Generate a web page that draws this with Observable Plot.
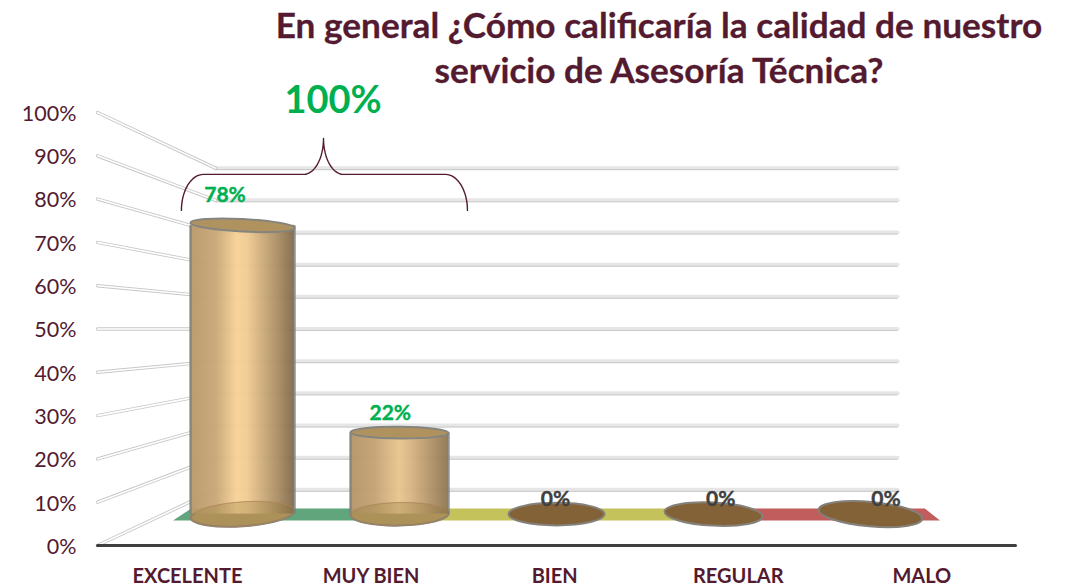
<!DOCTYPE html>
<html lang="es">
<head>
<meta charset="utf-8">
<script src="https://cdn.jsdelivr.net/npm/d3@7"></script>
<script src="https://cdn.jsdelivr.net/npm/@observablehq/plot@0.6"></script>
<style>
  html, body { margin: 0; padding: 0; background: #fff; }
  body { width: 1071px; height: 585px; overflow: hidden; font-family: Lato, sans-serif; }
  #title { position: relative; height: 80px; width: 1071px; }
  #title div { position: absolute; left: 259px; width: 800px; text-align: center; font-weight: 700; font-size: 35.2px; line-height: 44px; color: #541a30; white-space: nowrap; -webkit-text-stroke: 0.3px #541a30; }
  #chart svg { overflow: visible; display: block; }
</style>
</head>
<body>
<div id="title">
  <div style="top:2px">En general ¿Cómo calificaría la calidad de nuestro</div>
  <div style="top:47px">servicio de Asesoría Técnica?</div>
</div>
<div id="chart"></div>
<script>
const categories = ["EXCELENTE", "MUY BIEN", "BIEN", "REGULAR", "MALO"];
const values = [78, 22, 0, 0, 0];
const labels = ["78%", "22%", "0%", "0%", "0%"];
const yTicks = [0, 10, 20, 30, 40, 50, 60, 70, 80, 90, 100];
const total = "100%";

const MAROON = "#541a30", GREEN = "#00b050";
const rows = categories.map((c, i) => ({c, i, v: values[i], label: labels[i]}));

// Perspective planes: k=1 front, smaller k further back, around the centre of the floor
const BACK = 0.743, MID = 0.855, LABEL = 0.9;
const px = (i, k) => 2.5 + (i - 2.5) * k;
const py = (v, k) => 50 + (v - 50) * k;
const cx = i => px(i + 0.5, MID);
const halfPx = i => 48 + (i - 2) * (i - 2);
const half = i => halfPx(i) / 183.6;

const ellipse = ratio => ({
  draw(ctx, size) {
    const rx = Math.sqrt(size / Math.PI), ry = rx * ratio, c = 0.5523;
    ctx.moveTo(rx, 0);
    ctx.bezierCurveTo(rx, ry * c, rx * c, ry, 0, ry);
    ctx.bezierCurveTo(-rx * c, ry, -rx, ry * c, -rx, 0);
    ctx.bezierCurveTo(-rx, -ry * c, -rx * c, -ry, 0, -ry);
    ctx.bezierCurveTo(rx * c, -ry, rx, -ry * c, rx, 0);
    ctx.closePath();
  }
});
const capTop = ellipse(0.12), capBase = ellipse(0.235);
const topTilt = i => (i === 0 ? 3 : 0.5);
const baseTilt = i => [-4, -1, 0, 3, 5][i];

function defs() {
  const NS = "http://www.w3.org/2000/svg";
  const d = document.createElementNS(NS, "defs");
  const grad = (id, stops) => {
    const g = document.createElementNS(NS, "linearGradient");
    g.setAttribute("id", id);
    stops.forEach(([o, col]) => {
      const s = document.createElementNS(NS, "stop");
      s.setAttribute("offset", o);
      s.setAttribute("stop-color", col);
      g.appendChild(s);
    });
    d.appendChild(g);
  };
  grad("tall", [[0, "#b8986a"], [0.25, "#c9a877"], [0.45, "#f8d298"], [0.55, "#f0cb92"], [0.85, "#a98c63"], [1, "#806b4c"]]);
  grad("short", [[0, "#b39468"], [0.25, "#c4a374"], [0.5, "#e9c58f"], [0.62, "#d8b583"], [0.88, "#a68a62"], [1, "#907853"]]);
  return d;
}

// Floor strip, drawn between two depths
const floorSeg = (a, b, c = a, e = b) => [
  {x: px(a, 0.829), y: py(0, 0.829)},
  {x: px(b, 0.829), y: py(0, 0.829)},
  {x: px(e, 0.885), y: py(0, 0.885)},
  {x: px(c, 0.885), y: py(0, 0.885)}
];

// Brace built from quarter ellipses, in data units
const arc = (xc, yc, rx, ry, from, to) => d3.range(0, 1.0001, 1 / 16).map(t => {
  const a = from + (to - from) * t;
  return {x: xc + rx * Math.cos(a), y: yc + ry * Math.sin(a)};
});
const P = Math.PI;
const brace = [
  ...arc(0.577, 77.4, 0.12, 8.3, P, P / 2),
  ...arc(1.122, 94, 0.109, 8.3, -P / 2, 0),
  ...arc(1.34, 94, 0.109, 8.3, P, 3 * P / 2),
  ...arc(1.895, 77.4, 0.12, 8.3, P / 2, 0)
];

const plot = Plot.plot({
  width: 1071,
  height: 505,
  marginLeft: 97,
  marginRight: 56,
  marginTop: 32,
  marginBottom: 40,
  style: {background: "transparent", fontFamily: "Lato, sans-serif"},
  x: {type: "linear", domain: [0, 5], axis: null},
  y: {type: "linear", domain: [0, 100], axis: null},
  marks: [
    defs,
    // back wall
    Plot.link(yTicks, {x1: px(0, BACK), x2: px(5, BACK), y1: v => py(v, BACK), y2: v => py(v, BACK), stroke: "#e6e6e6", strokeWidth: 4, strokeLinecap: "round"}),
    Plot.link(yTicks, {x1: px(0, BACK), x2: px(5, BACK), y1: v => py(v, BACK), y2: v => py(v, BACK), dy: 1.5, stroke: "#c9c9c9", strokeWidth: 1}),
    // side wall
    Plot.link(yTicks, {x1: px(0, 1), x2: px(0, BACK), y1: v => py(v, 1), y2: v => py(v, BACK), stroke: "#c8c8c8", strokeWidth: 3.4, strokeLinecap: "round"}),
    Plot.link(yTicks, {x1: px(0, 1), x2: px(0, BACK), y1: v => py(v, 1), y2: v => py(v, BACK), stroke: "#ffffff", strokeWidth: 1.6, strokeLinecap: "round"}),
    // floor strip
    Plot.line(floorSeg(0.1, 1.6, 0.14, 1.6), {x: "x", y: "y", fill: "#60a57c", stroke: "none"}),
    Plot.line(floorSeg(1.6, 3.3), {x: "x", y: "y", fill: "#c4c25a", stroke: "none"}),
    Plot.line(floorSeg(3.3, 4.92, 3.3, 4.86), {x: "x", y: "y", fill: "#c25d5d", stroke: "none"}),
    // front axis line
    Plot.link([0], {x1: 0, x2: 5, y1: 0, y2: 0, stroke: "#3f3f3f", strokeWidth: 3, strokeLinecap: "round"}),
    // cylinders
    ...rows.flatMap(d => {
      const x = cx(d.i), y0 = py(0, MID), y1 = py(d.v, MID), r = halfPx(d.i);
      if (d.v === 0) {
        return [Plot.dot([d], {x: () => x, y: () => y0, r, symbol: capBase, rotate: baseTilt(d.i), fill: "#846238", stroke: "#84807a", strokeWidth: 2})];
      }
      const fill = d.v > 50 ? "url(#tall)" : "url(#short)";
      return [
        Plot.dot([d], {x: () => x, y: () => y0, r, symbol: capBase, rotate: baseTilt(d.i), fill: "#b89a63", stroke: "#7f7f7f", strokeWidth: 2}),
        Plot.rect([d], {x1: () => x - half(d.i), x2: () => x + half(d.i), y1: () => y0, y2: () => y1, fill, fillOpacity: 0.96}),
        Plot.dot([d], {x: () => x, y: () => y0, r, symbol: capBase, rotate: baseTilt(d.i), fill: "#8f7a3c", fillOpacity: 0.28, stroke: "#b0845a", strokeWidth: 0.8}),
        Plot.link([d], {x1: () => x - half(d.i), x2: () => x - half(d.i), y1: () => y0, y2: () => y1, stroke: "#7f7f7f", strokeWidth: 2.4, strokeOpacity: 0.85}),
        Plot.link([d], {x1: () => x + half(d.i), x2: () => x + half(d.i), y1: () => y0, y2: () => y1, stroke: "#7f7f7f", strokeWidth: 2.4, strokeOpacity: 0.85}),
        Plot.dot([d], {x: () => x, y: () => y1, r, symbol: capTop, rotate: topTilt(d.i), fill: "#b0925f", stroke: "#85857f", strokeWidth: 2})
      ];
    }),
    // value labels
    Plot.text(rows, {
      x: d => px(d.i + 0.5, LABEL),
      y: d => py(d.v, LABEL),
      dx: -1,
      dy: -25,
      text: "label",
      fontSize: 21,
      fontWeight: 700,
      stroke: d => (d.v > 0 ? GREEN : "#404040"),
      strokeWidth: 0.4,
      fill: d => (d.v > 0 ? GREEN : "#404040")
    }),
    // brace and total
    Plot.line(brace, {x: "x", y: "y", stroke: MAROON, strokeWidth: 1.4, curve: "linear"}),
    Plot.text([total], {x: 1.283, y: 102.6, text: d => d, fontSize: 38, fontWeight: 700, fill: GREEN}),
    // axes
    Plot.axisY({ticks: yTicks, tickSize: 0, tickPadding: 21, dy: 1.5, tickFormat: d => d + "%", fontSize: 21.5, fill: MAROON, label: null, anchor: "left"}),
    Plot.axisX({ticks: categories.map((c, i) => i + 0.49), tickSize: 0, tickPadding: 23, tickFormat: d => categories[Math.floor(d)], fontSize: 20, fontWeight: 700, fill: MAROON, label: null, anchor: "bottom"})
  ]
});
document.getElementById("chart").appendChild(plot);
</script>
</body>
</html>
